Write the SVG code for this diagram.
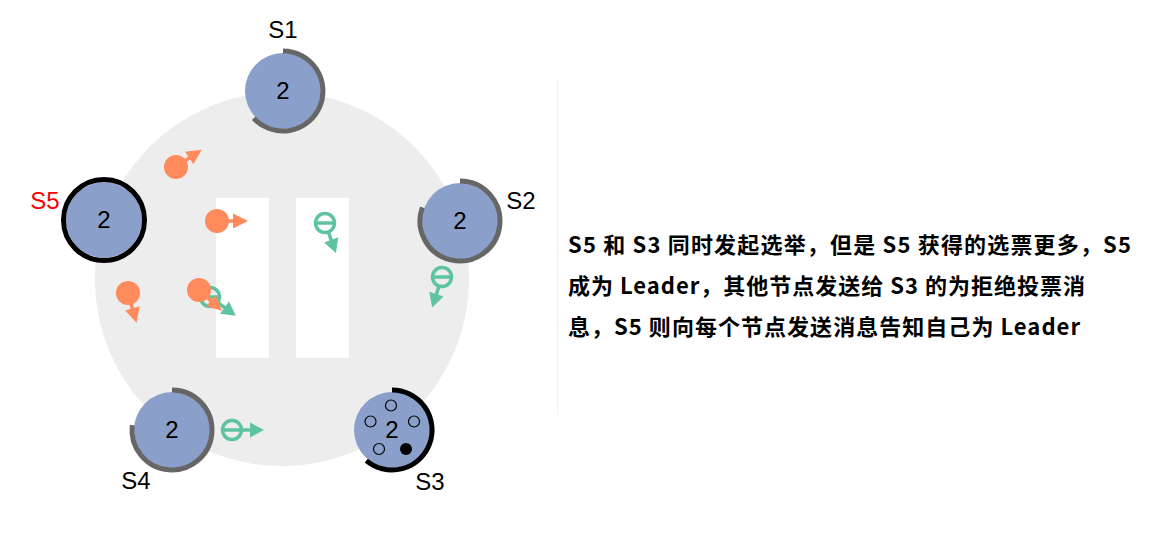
<svg xmlns="http://www.w3.org/2000/svg" width="1170" height="556" viewBox="0 0 1170 556">
<style>
.node{fill:#8a9fc9}
.ring{fill:none;stroke:#666;stroke-width:5}
.ringb{fill:none;stroke:#000;stroke-width:5}
.num{font-family:"Liberation Sans",Arial,sans-serif;font-size:24px;fill:#000;text-anchor:middle}
.lbl{font-family:"Liberation Sans",Arial,sans-serif;font-size:24px;fill:#000;text-anchor:middle}
.desc{font-family:"Noto Sans CJK SC",sans-serif;font-size:22px;font-weight:bold;fill:#000}
.o{fill:#ff8a5c}
.ol{stroke:#ff8a5c;stroke-width:3.5}
.g{fill:none;stroke:#5ec4a0;stroke-width:3.5}
.gf{fill:#5ec4a0}
.dot{fill:none;stroke:#000;stroke-width:1.2}
</style>
<defs>
<g id="arrO"><line class="ol" x1="8" y1="0" x2="20" y2="0"/><polygon class="o" points="16,-7.5 31,0 16,7.5"/></g>
<g id="arrG"><line class="g" x1="9" y1="0" x2="20" y2="0"/><polygon class="gf" points="18,-7.5 32,0 18,7.5"/></g>
</defs>
<rect width="1170" height="556" fill="#fff"/>
<circle cx="282" cy="279" r="187" fill="#ededed"/>
<rect x="216" y="198" width="53" height="160" fill="#fff"/>
<rect x="296" y="198" width="53" height="160" fill="#fff"/>
<line x1="557.5" y1="78" x2="557.5" y2="415" stroke="#f0f0f0" stroke-width="1"/>
<g id="connectors">
<g id="msg-g4"><use href="#arrG" transform="translate(210,297) rotate(36)"/><circle class="g" cx="210" cy="297" r="9.5"/><line class="g" x1="201" y1="297" x2="219" y2="297"/></g>
<g id="msg-o1"><use href="#arrO" transform="translate(176,167) rotate(-34)"/><circle class="o" cx="176" cy="167" r="12"/></g>
<g id="msg-o2"><use href="#arrO" transform="translate(217,221)"/><circle class="o" cx="217" cy="221" r="12"/></g>
<g id="msg-o3"><use href="#arrO" transform="translate(128,293) rotate(74)"/><circle class="o" cx="128" cy="293" r="12"/></g>
<g id="msg-o4"><use href="#arrO" transform="translate(199,290) rotate(42)"/><circle class="o" cx="199" cy="290" r="12"/></g>
<g id="msg-g1"><use href="#arrG" transform="translate(325,223) rotate(70)"/><circle class="g" cx="325" cy="223" r="9.5"/><line class="g" x1="316" y1="223" x2="334" y2="223"/></g>
<g id="msg-g2"><use href="#arrG" transform="translate(442,277) rotate(108)"/><circle class="g" cx="442" cy="277" r="9.5"/><line class="g" x1="433" y1="277" x2="451" y2="277"/></g>
<g id="msg-g3"><use href="#arrG" transform="translate(232,430)"/><circle class="g" cx="232" cy="430" r="9.5"/><line class="g" x1="223" y1="430" x2="241" y2="430"/></g>
</g>
<g id="S1">
<circle class="node" cx="283" cy="91" r="38"/>
<path class="ring" d="M283,51 A40,40 0 1 1 253.7,118.3"/>
<text class="num" x="283" y="99">2</text>
<text class="lbl" x="283" y="38">S1</text>
</g>
<g id="S2">
<circle class="node" cx="460" cy="221" r="38"/>
<path class="ring" d="M460,181 A40,40 0 1 1 422.4,207.3"/>
<text class="num" x="460" y="229">2</text>
<text class="lbl" x="521" y="209">S2</text>
</g>
<g id="S5">
<circle class="node" cx="104" cy="220" r="38"/>
<circle class="ringb" cx="104" cy="220" r="40.5" stroke-width="6"/>
<text class="num" x="104" y="228">2</text>
<text class="lbl" x="45" y="209" style="fill:#ff0000">S5</text>
</g>
<g id="S4">
<circle class="node" cx="172" cy="430" r="38"/>
<path class="ring" d="M172,390 A40,40 0 1 1 132.3,425.1"/>
<text class="num" x="172" y="438">2</text>
<text class="lbl" x="136" y="489">S4</text>
</g>
<g id="S3">
<circle class="node" cx="392" cy="430" r="38"/>
<path class="ringb" d="M392,390 A40,40 0 1 1 366.3,460.6"/>
<text class="num" x="392" y="438">2</text>
<circle class="dot" cx="391" cy="405.5" r="5.5"/>
<circle class="dot" cx="370.5" cy="421.5" r="5.5"/>
<circle class="dot" cx="414" cy="421.5" r="5.5"/>
<circle class="dot" cx="379" cy="449" r="5.5"/>
<circle cx="406" cy="449" r="6" fill="#000"/>
<text class="lbl" x="430" y="490">S3</text>
</g>
<g id="description">
<text class="desc" x="568" y="253" textLength="563" lengthAdjust="spacing">S5 和 S3 同时发起选举，但是 S5 获得的选票更多，S5</text>
<text class="desc" x="568" y="294" textLength="517" lengthAdjust="spacing">成为 Leader，其他节点发送给 S3 的为拒绝投票消</text>
<text class="desc" x="568" y="335" textLength="512" lengthAdjust="spacing">息，S5 则向每个节点发送消息告知自己为 Leader</text>
</g>
</svg>
